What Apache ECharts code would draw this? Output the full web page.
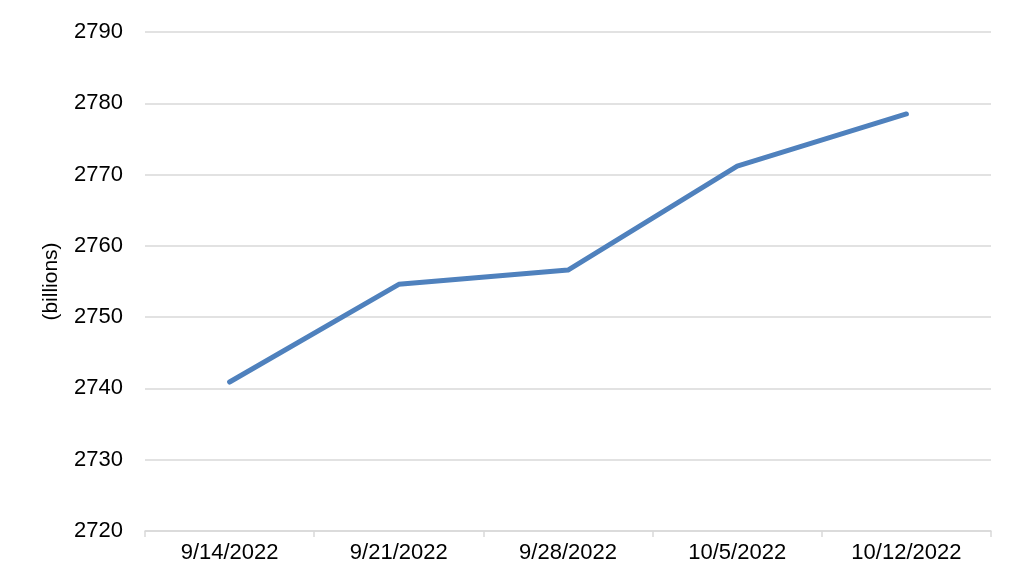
<!DOCTYPE html>
<html><head><meta charset="utf-8">
<script src="https://cdn.jsdelivr.net/npm/echarts@6/dist/echarts.min.js"></script>
<style>html,body{margin:0;padding:0;background:#fff}#c{width:1024px;height:585px}</style>
</head><body><div id="c"></div>
<script>
const categories = ['9/14/2022','9/21/2022','9/28/2022','10/5/2022','10/12/2022'];
const values = [2740.9, 2754.6, 2756.6, 2771.2, 2778.5];
const yMin = 2720, yMax = 2790, yStep = 10;
const yName = '(billions)';

const chart = echarts.init(document.getElementById('c'), null, {renderer:'canvas'});
chart.setOption({
  animation:false,
  backgroundColor:'#fff',
  grid:{left:145, right:33, top:32, bottom:54, containLabel:false},
  xAxis:{
    type:'category', data:categories, boundaryGap:true,
    axisLine:{show:true, lineStyle:{color:'#d9d9d9', width:1.5}},
    axisTick:{show:true, length:6, lineStyle:{color:'#d9d9d9', width:1.5}},
    axisLabel:{color:'#000', fontSize:22, fontFamily:'Liberation Sans, Arial', margin:11}
  },
  yAxis:{
    type:'value', min:yMin, max:yMax, interval:yStep,
    name:yName, nameLocation:'middle', nameGap:83, nameRotate:90,
    nameTextStyle:{color:'#000', fontSize:21, fontFamily:'Liberation Sans, Arial'},
    axisLine:{show:false}, axisTick:{show:false},
    splitLine:{lineStyle:{color:'#d9d9d9', width:1.5}},
    axisLabel:{color:'#000', fontSize:22, fontFamily:'Liberation Sans, Arial', margin:22,
      formatter: v => String(v)}
  },
  series:[{
    type:'line', data:values, symbol:'none',
    lineStyle:{color:'#4F81BD', width:5, cap:'round', join:'round'}
  }]
});
</script></body></html>
